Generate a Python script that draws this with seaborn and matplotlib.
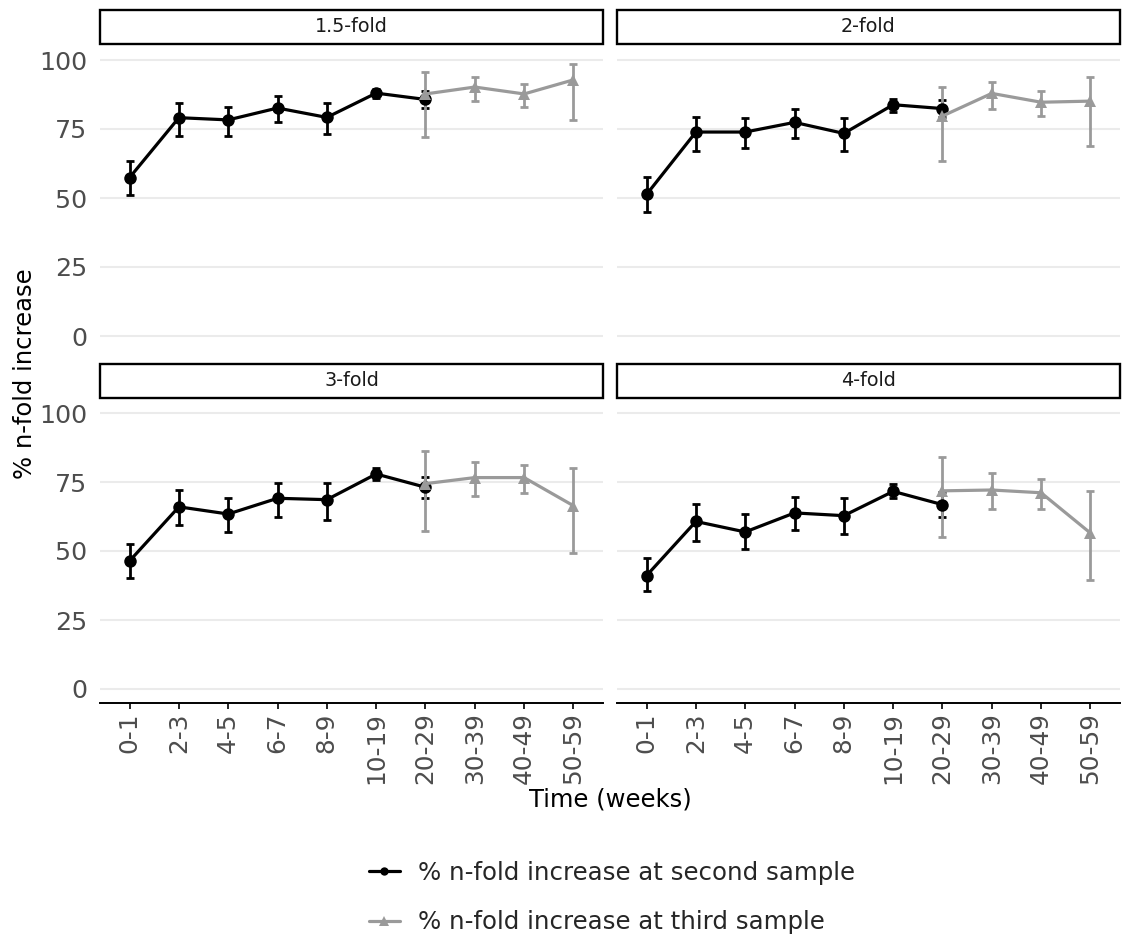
import numpy as np
import pandas as pd
import matplotlib
matplotlib.use("Agg")
import matplotlib.pyplot as plt
from matplotlib.lines import Line2D
from matplotlib.patches import Rectangle
import seaborn as sns

sns.set_style("white")
plt.rcParams['font.family'] = ['DejaVu Sans']

categories = ["0-1", "2-3", "4-5", "6-7", "8-9", "10-19", "20-29", "30-39", "40-49", "50-59"]
panels = ["1.5-fold", "2-fold", "3-fold", "4-fold"]
series_names = ["% n-fold increase at second sample", "% n-fold increase at third sample"]

second_cats = categories[:7]
third_cats = categories[6:]

second_val = {
    "1.5-fold": [57.4, 79.1, 78.3, 82.6, 79.2, 88.0, 85.7],
    "2-fold":   [51.3, 73.9, 73.9, 77.4, 73.4, 83.8, 82.4],
    "3-fold":   [46.4, 66.0, 63.4, 69.1, 68.6, 77.9, 73.1],
    "4-fold":   [41.1, 60.7, 56.9, 63.8, 62.8, 71.6, 66.8],
}
second_low = {
    "1.5-fold": [51.1, 72.6, 72.5, 77.4, 73.2, 86.3, 82.5],
    "2-fold":   [45.0, 67.1, 68.0, 71.7, 67.0, 81.3, 79.3],
    "3-fold":   [40.2, 59.3, 56.8, 62.3, 61.2, 75.6, 69.3],
    "4-fold":   [35.5, 53.6, 50.8, 57.6, 56.2, 69.1, 62.3],
}
second_high = {
    "1.5-fold": [63.4, 84.3, 82.8, 87.0, 84.3, 89.6, 88.9],
    "2-fold":   [57.5, 79.5, 79.1, 82.1, 79.1, 86.0, 85.5],
    "3-fold":   [52.5, 72.1, 69.1, 74.5, 74.5, 80.0, 76.7],
    "4-fold":   [47.4, 67.1, 63.4, 69.4, 69.1, 74.2, 71.3],
}
third_val = {
    "1.5-fold": [87.7, 90.2, 87.7, 92.8],
    "2-fold":   [79.7, 87.9, 84.7, 85.1],
    "3-fold":   [74.4, 76.6, 76.6, 66.4],
    "4-fold":   [71.8, 72.1, 71.1, 56.5],
}
third_low = {
    "1.5-fold": [72.0, 85.1, 82.8, 78.3],
    "2-fold":   [63.3, 82.1, 79.6, 68.9],
    "3-fold":   [57.4, 70.0, 70.9, 49.4],
    "4-fold":   [55.0, 65.2, 65.2, 39.6],
}
third_high = {
    "1.5-fold": [95.5, 94.0, 91.3, 98.4],
    "2-fold":   [90.3, 91.9, 88.6, 94.0],
    "3-fold":   [86.2, 82.2, 81.3, 80.2],
    "4-fold":   [84.2, 78.1, 76.2, 71.9],
}
y_ticks = [0, 25, 50, 75, 100]

rows = []
for p in panels:
    for c, v, lo, hi in zip(second_cats, second_val[p], second_low[p], second_high[p]):
        rows.append(dict(panel=p, time=c, pos=categories.index(c) + 1, value=v, low=lo, high=hi, series=series_names[0]))
    for c, v, lo, hi in zip(third_cats, third_val[p], third_low[p], third_high[p]):
        rows.append(dict(panel=p, time=c, pos=categories.index(c) + 1, value=v, low=lo, high=hi, series=series_names[1]))
df = pd.DataFrame(rows)

BLACK = "#000000"
GREY = "#9A9A9A"
palette = {series_names[0]: BLACK, series_names[1]: GREY}
markers = {series_names[0]: "o", series_names[1]: "^"}

W, H = 1138, 940
fig = plt.figure(figsize=(W / 100, H / 100), dpi=100)

def add_ax(L, R, T, B):
    return fig.add_axes([L / W, 1 - B / H, (R - L) / W, (B - T) / H])

cols = [(100, 603), (617, 1120)]
rowsy = [((10, 44), (46.2, 349.8)), ((364, 398), (399.2, 702.8))]

for i, p in enumerate(panels):
    r, c = divmod(i, 2)
    L, R = cols[c]
    (sT, sB), (T, B) = rowsy[r]
    ax = add_ax(L, R, T, B)
    sub = df[df.panel == p]
    for s in series_names:
        d = sub[sub.series == s]
        ax.errorbar(d.pos, d.value, yerr=[d.value - d.low, d.high - d.value], fmt="none",
                    ecolor=palette[s], elinewidth=2.0, capsize=2.6, capthick=2.0, zorder=2)
    sns.lineplot(data=sub, x="pos", y="value", hue="series", style="series",
                 palette=palette, markers=markers, dashes=False, markersize=9,
                 markeredgewidth=0, linewidth=2.3, legend=False, ax=ax, zorder=3)
    ax.set_xlim(0.4, 10.6)
    ax.set_ylim(-5, 105)
    ax.set_yticks(y_ticks)
    ax.set_xticks(range(1, len(categories) + 1))
    ax.yaxis.grid(True, color="#EBEBEB", linewidth=1.5)
    ax.xaxis.grid(False)
    ax.set_axisbelow(True)
    ax.set_xlabel("")
    ax.set_ylabel("")
    for sp in ax.spines.values():
        sp.set_visible(False)
    ax.tick_params(axis="y", length=0, pad=9, labelsize=18.3, labelcolor="#4D4D4D")
    if c == 0:
        ax.set_yticklabels([str(t) for t in y_ticks])
    else:
        ax.set_yticklabels([])
    if r == 1:
        ax.spines["bottom"].set_visible(True)
        ax.spines["bottom"].set_color("black")
        ax.spines["bottom"].set_linewidth(1.4)
        ax.set_xticklabels(categories, rotation=90)
        ax.tick_params(axis="x", length=4, width=1.2, color="black", pad=3,
                       labelsize=17.8, labelcolor="#4D4D4D", bottom=True)
    else:
        ax.set_xticklabels([])
        ax.tick_params(axis="x", length=0)
    sax = add_ax(L, R, sT, sB)
    sax.set_xlim(0, 1); sax.set_ylim(0, 1)
    sax.axis("off")
    sax.add_patch(Rectangle((0, 0), 1, 1, transform=sax.transAxes, fill=True,
                            facecolor="white", edgecolor="black", linewidth=1.7, clip_on=False))
    sax.text(0.5, 0.5, p, ha="center", va="center", fontsize=13.8, color="#1A1A1A")

fig.text(25 / W, 1 - 374 / H, "% n-fold increase", rotation=90, ha="center", va="center",
         fontsize=17.5, color="black")
fig.text(610 / W, 1 - 800 / H, "Time (weeks)", ha="center", va="center",
         fontsize=17.5, color="black")

handles = [
    Line2D([0], [0], color=BLACK, marker="o", markersize=6, markeredgewidth=0, linewidth=2.3),
    Line2D([0], [0], color=GREY, marker="^", markersize=7, markeredgewidth=0, linewidth=2.3),
]
fig.legend(handles, series_names, loc="center", bbox_to_anchor=(612 / W, 1 - 897.5 / H),
           frameon=False, fontsize=17.6, handlelength=1.25, handletextpad=0.75, labelspacing=1.05)

fig.savefig("out.png", dpi=100, facecolor="white")
